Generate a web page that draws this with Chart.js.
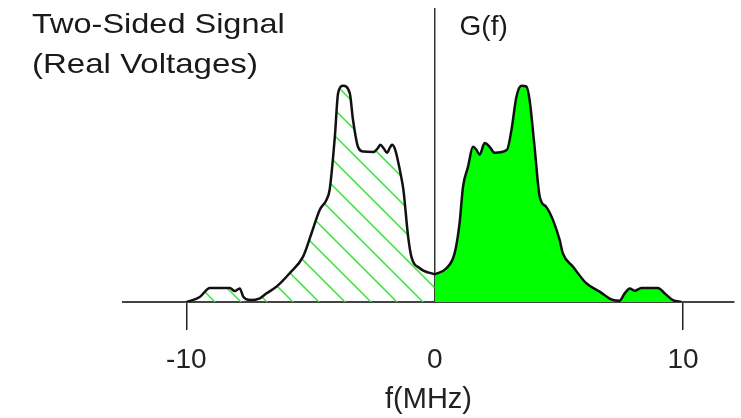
<!DOCTYPE html>
<html>
<head>
<meta charset="utf-8">
<script src="https://cdn.jsdelivr.net/npm/chart.js@4"></script>
<style>
  body { margin: 0; background: #fff; }
</style>
</head>
<body>
<canvas id="specChart" width="741" height="418"></canvas>
<script>
// negative-frequency half (MHz) and its relative amplitude
const leftFreq = [-9.99, -9.46, -9.05, -8.25, -8.05, -7.85, -7.71, -7.44, -7.04, -6.77, -6.37, -5.84, -5.3, -4.96, -4.63, -4.36, -4.23, -4.02, -3.89, -3.69, -3.42, -3.29, -3.09, -2.88, -2.47, -2.3, -2.19, -2.05, -1.92, -1.8, -1.72, -1.59, -1.38, -1.26, -1.07, -0.94, -0.6, 0];
const leftAmp = [0, 0.023, 0.065, 0.065, 0.051, 0.063, 0.025, 0.009, 0.017, 0.04, 0.071, 0.133, 0.21, 0.318, 0.426, 0.472, 0.519, 0.765, 0.966, 1.0, 0.966, 0.843, 0.718, 0.696, 0.694, 0.71, 0.727, 0.71, 0.69, 0.715, 0.727, 0.704, 0.597, 0.519, 0.302, 0.21, 0.156, 0.128];

// positive-frequency half
const rightFreq = [0, 0.47, 0.8, 1.0, 1.14, 1.34, 1.54, 1.68, 1.81, 2.01, 2.21, 2.41, 2.91, 3.09, 3.29, 3.49, 3.69, 3.82, 4.02, 4.23, 4.49, 4.76, 5.03, 5.16, 5.57, 6.1, 6.64, 7.18, 7.44, 7.65, 7.85, 8.05, 8.32, 8.99, 9.26, 9.59, 9.93];
const rightAmp = [0.128, 0.156, 0.225, 0.364, 0.534, 0.625, 0.718, 0.704, 0.681, 0.735, 0.718, 0.69, 0.704, 0.796, 0.949, 1.0, 0.997, 0.935, 0.718, 0.486, 0.44, 0.38, 0.287, 0.225, 0.163, 0.087, 0.048, 0.009, 0.006, 0.04, 0.063, 0.052, 0.065, 0.065, 0.04, 0.009, 0];

const tickValues = [-10, 0, 10];

// diagonal hatch for the mirrored half
function makeHatch() {
    const size = 26;
    const c = document.createElement('canvas');
    c.width = size;
    c.height = size;
    const g = c.getContext('2d');
    g.strokeStyle = '#33e633';
    g.lineWidth = 1.5;
    [-26, 0, 26].forEach(k => {
        g.beginPath();
        g.moveTo(17 + k - 2, -2);
        g.lineTo(17 + k + size + 2, size + 2);
        g.stroke();
    });
    return g.createPattern(c, 'repeat');
}

// wide sans text, stretched a little horizontally
function wideText(ctx, text, x, y, stretch) {
    ctx.save();
    ctx.translate(x, y);
    ctx.scale(stretch, 1);
    ctx.fillText(text, 0, 0);
    ctx.restore();
}

const textLabels = {
    id: 'textLabels',
    afterDraw(chart) {
        const ctx = chart.ctx;
        const x = chart.scales.x;
        ctx.save();
        ctx.fillStyle = '#1a1a1a';
        ctx.textBaseline = 'alphabetic';
        ctx.textAlign = 'left';
        ctx.font = '28px "Liberation Sans", Arial, sans-serif';
        wideText(ctx, 'Two-Sided Signal', 32, 33, 1.16);
        wideText(ctx, '(Real Voltages)', 32, 73, 1.18);
        wideText(ctx, 'G(f)', x.getPixelForValue(1), 35, 1.0);
        ctx.restore();
    }
};

const toPoints = (xs, ys) => xs.map((f, i) => ({x: f, y: ys[i]}));

const data = {
    datasets: [{
        label: 'negative',
        data: toPoints(leftFreq, leftAmp),
        borderColor: '#111',
        borderWidth: 2.5,
        backgroundColor: makeHatch(),
        fill: 'origin',
        pointRadius: 0,
        cubicInterpolationMode: 'monotone'
    }, {
        label: 'positive',
        data: toPoints(rightFreq, rightAmp),
        borderColor: '#111',
        borderWidth: 2.5,
        backgroundColor: '#00ff00',
        fill: 'origin',
        pointRadius: 0,
        cubicInterpolationMode: 'monotone'
    }]
};

const config = {
    type: 'line',
    data: data,
    options: {
        responsive: false,
        animation: false,
        devicePixelRatio: 1,
        layout: { padding: { left: 123, right: 7, top: 8, bottom: 0 } },
        plugins: { legend: { display: false }, tooltip: { enabled: false } },
        scales: {
            x: {
                type: 'linear',
                min: -12.55,
                max: 12.05,
                afterBuildTicks: scale => {
                    scale.ticks = tickValues.map(v => ({value: v}));
                },
                afterFit: scale => { scale.height = 116; },
                border: { display: true, color: '#444', width: 2 },
                grid: {
                    drawOnChartArea: true,
                    tickLength: 28,
                    lineWidth: 1.5,
                    color: ctx => ctx.tick && ctx.tick.value === 0 ? '#333' : 'transparent',
                    tickColor: ctx => ctx.tick && ctx.tick.value === 0 ? 'transparent' : '#222'
                },
                ticks: {
                    padding: 13,
                    color: '#222',
                    font: { family: '"Liberation Sans", Arial, sans-serif', size: 28 },
                    maxRotation: 0
                },
                title: {
                    display: true,
                    text: 'f(MHz)',
                    color: '#222',
                    padding: { top: 0, bottom: 1 },
                    font: { family: '"Liberation Sans", Arial, sans-serif', size: 29 }
                }
            },
            y: {
                display: false,
                min: 0,
                max: 1.36
            }
        }
    },
    plugins: [textLabels]
};

const specChart = new Chart(document.getElementById('specChart'), config);
</script>
</body>
</html>
